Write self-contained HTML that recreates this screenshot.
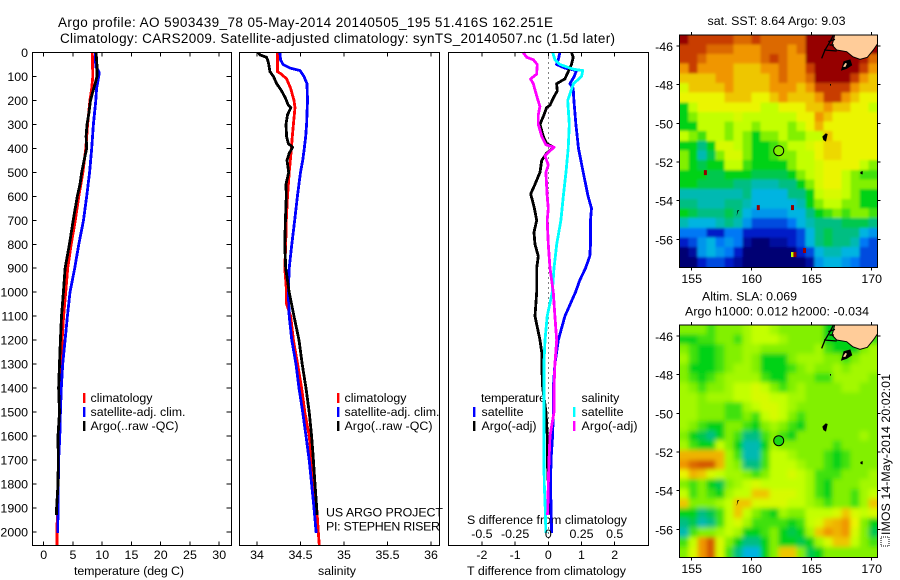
<!DOCTYPE html>
<html lang="en">
<head>
<meta charset="utf-8">
<title>Argo profile 5903439_78</title>
<style>
html,body{margin:0;padding:0;background:#fff;width:900px;height:580px;overflow:hidden}
svg{display:block}
text{font-family:"Liberation Sans",sans-serif;font-size:12.4px;fill:#000}
</style>
</head>
<body>
<svg id="chart" xmlns="http://www.w3.org/2000/svg" width="900" height="580" viewBox="0 0 900 580">
  <defs>
    <clipPath id="clip-map"><rect x="679.5" y="35" width="198" height="232.5"/></clipPath>
    <clipPath id="clip-map2"><rect x="679.5" y="325" width="198" height="232.5"/></clipPath>
    <filter id="soft-sst" x="-5%" y="-5%" width="110%" height="110%"><feGaussianBlur stdDeviation="1.2"/></filter>
    <filter id="soft-sla" x="-5%" y="-5%" width="110%" height="110%"><feGaussianBlur stdDeviation="2.5"/></filter>
  </defs>
  <text x="58" y="27" textLength="495" lengthAdjust="spacing" style="font-size:13.5px">Argo profile: AO 5903439_78 05-May-2014 20140505_195 51.416S 162.251E</text>
  <text x="60" y="43" textLength="555" lengthAdjust="spacing" style="font-size:13.5px">Climatology: CARS2009. Satellite-adjusted climatology: synTS_20140507.nc (1.5d later)</text>

  <text x="74" y="575" textLength="110" lengthAdjust="spacing">temperature (deg C)</text>
  <text x="318" y="575" textLength="38" lengthAdjust="spacing">salinity</text>
  <text x="467" y="575" textLength="159" lengthAdjust="spacing">T difference from climatology</text>
  <text x="467" y="524" textLength="160" lengthAdjust="spacing">S difference from climatology</text>

  <text x="326" y="516.5" textLength="117" lengthAdjust="spacing">US ARGO PROJECT</text>
  <text x="326" y="530.5" textLength="114" lengthAdjust="spacing">PI: STEPHEN RISER</text>

  <g>
    <text x="90.5" y="402">climatology</text>
    <text x="90.5" y="416" textLength="95" lengthAdjust="spacing">satellite-adj. clim.</text>
    <text x="90.5" y="430" textLength="88" lengthAdjust="spacing">Argo(..raw -QC)</text>
  </g>
  <g>
    <text x="344.5" y="402">climatology</text>
    <text x="344.5" y="416" textLength="95" lengthAdjust="spacing">satellite-adj. clim.</text>
    <text x="344.5" y="430" textLength="88" lengthAdjust="spacing">Argo(..raw -QC)</text>
  </g>
  <g>
    <text x="481" y="402" textLength="65" lengthAdjust="spacing">temperature</text>
    <text x="481.5" y="416">satellite</text>
    <text x="481.5" y="430" textLength="55" lengthAdjust="spacing">Argo(-adj)</text>
    <text x="581.5" y="402">salinity</text>
    <text x="581.5" y="416">satellite</text>
    <text x="581.5" y="430" textLength="56" lengthAdjust="spacing">Argo(-adj)</text>
  </g>

  <text x="707.5" y="25" textLength="138" lengthAdjust="spacing">sat. SST: 8.64  Argo: 9.03</text>
  <text x="702" y="300.5" textLength="95" lengthAdjust="spacing">Altim. SLA: 0.069</text>
  <text x="685" y="315.5" textLength="184" lengthAdjust="spacing">Argo h1000: 0.012 h2000: -0.034</text>

  <text transform="translate(890,535) rotate(-90)" textLength="161" lengthAdjust="spacing">IMOS 14-May-2014 20:02:01</text>
  <rect x="881" y="537" width="8" height="9" fill="none" stroke="#000" stroke-width="1" stroke-dasharray="1 1"/>
</svg>

<script>
// ---------- Depth axis ----------
const depthTicks = [0,100,200,300,400,500,600,700,800,900,1000,1100,1200,1300,1400,1500,1600,1700,1800,1900,2000];

// ---------- Temperature panel ----------
const tempTicks = [0,5,10,15,20,25,30];
const climTempDepth = [0,100,150,200,300,400,500,600,700,800,900,1000,1100,1200,1300,1400,1500,1600,1700,1800,1900,2000,2057];
const climTemp = [8.3,8.4,8.2,7.9,7.5,7.2,6.7,6.0,5.4,4.7,4.1,3.76,3.4,3.15,3.0,2.8,2.7,2.55,2.5,2.45,2.35,2.28,2.28];
const satTempDepth = [0,60,70,85,100,150,200,300,400,500,600,700,800,900,1000,1100,1200,1300,1400,1500,1600,1700,1800,1900,2005];
const satTemp = [8.8,8.9,9.2,9.5,9.4,9.05,8.9,8.5,8.2,7.85,7.35,6.8,6.0,5.3,4.5,4.05,3.65,3.25,3.0,2.85,2.75,2.55,2.5,2.45,2.4];
const argoTempDepth = [0,50,100,130,150,200,250,300,350,400,450,500,550,600,700,800,900,1000,1100,1200,1300,1400,1500,1600,1700,1800,1900,1930];
const argoTemp = [8.95,9.1,9.1,8.8,8.55,8.0,7.75,7.4,7.25,7.35,6.9,6.5,6.2,5.75,5.05,4.4,3.65,3.36,3.05,2.85,2.7,2.55,2.7,2.45,2.5,2.45,2.2,2.2];

// ---------- Salinity panel ----------
const salTicks = [34,34.5,35,35.5,36];
const climSalDepth = [0,80,90,110,150,200,230,300,350,400,450,500,600,700,800,900,1000,1050,1100,1200,1300,1400,1500,1600,1700,1800,1900,2000,2057];
const climSal = [34.234,34.234,34.28,34.34,34.387,34.425,34.437,34.418,34.406,34.395,34.383,34.37,34.35,34.337,34.33,34.32,34.34,34.34,34.387,34.418,34.467,34.513,34.55,34.6,34.628,34.655,34.686,34.705,34.716];
const satSalDepth = [0,30,50,65,75,100,130,200,300,350,400,450,500,600,700,800,900,1000,1100,1200,1300,1400,1500,1600,1700,1800,1900,2005];
const satSal = [34.264,34.27,34.3,34.38,34.494,34.54,34.575,34.58,34.57,34.56,34.544,34.525,34.5,34.464,34.433,34.4,34.37,34.36,34.37,34.4,34.448,34.483,34.525,34.563,34.6,34.628,34.655,34.68];
const argoSalDepth = [0,10,20,40,80,100,130,160,190,220,230,260,300,350,380,395,420,450,500,550,600,700,800,900,1000,1100,1200,1300,1400,1500,1600,1700,1800,1900,1930];
const argoSal = [34.015,34.035,34.11,34.13,34.15,34.19,34.226,34.283,34.326,34.36,34.39,34.35,34.333,34.34,34.36,34.41,34.37,34.345,34.364,34.333,34.337,34.326,34.32,34.33,34.37,34.425,34.483,34.52,34.563,34.6,34.628,34.648,34.667,34.686,34.69];

// ---------- Difference panel ----------
const diffTTicks = [-2,-1,0,1,2];
const diffSLabels = [-0.5,-0.25,0,0.25,0.5];
const satTDiffDepth = [0,30,50,65,75,100,130,150,200,300,400,500,600,650,700,800,850,900,950,1000,1100,1200,1300,1400,1500,1600,1700,1800,1900,2005];
const satTDiff = [0.35,0.3,0.25,0.5,0.85,0.78,0.65,0.75,0.77,0.83,0.91,1.05,1.2,1.3,1.27,1.27,1.25,1.12,0.95,0.82,0.5,0.3,0.2,0.15,0.15,0.13,0.08,0.07,0.08,0.1];
const argoTDiffDepth = [0,20,50,80,110,130,160,190,220,230,260,300,350,380,395,420,450,500,550,590,650,700,750,800,850,900,1000,1100,1200,1250,1300,1400,1500,1600,1700,1800,1930];
const argoTDiff = [0.7,0.75,0.7,0.6,0.5,0.25,0.27,0.15,0.05,-0.05,-0.13,-0.25,-0.15,-0.05,0.17,-0.05,-0.2,-0.25,-0.4,-0.53,-0.42,-0.35,-0.43,-0.4,-0.3,-0.35,-0.35,-0.4,-0.25,-0.2,-0.2,-0.17,-0.07,-0.03,-0.03,0,0];
const satSDiffDepth = [0,30,50,70,75,100,130,200,300,400,500,600,700,800,900,1000,1100,1200,1300,1400,1500,1600,1700,1800,1900,2005];
const satSDiff = [0.033,0.05,0.088,0.19,0.26,0.25,0.19,0.146,0.158,0.15,0.133,0.113,0.095,0.063,0.043,0.03,-0.008,-0.025,-0.033,-0.033,-0.033,-0.033,-0.033,-0.03,-0.023,-0.018];
const argoSDiffDepth = [0,20,30,50,90,110,130,180,225,260,300,350,385,395,430,470,500,600,650,700,800,900,1000,1100,1200,1300,1400,1500,1600,1700,1800,1930];
const argoSDiff = [-0.19,-0.163,-0.113,-0.083,-0.088,-0.133,-0.113,-0.088,-0.063,-0.075,-0.075,-0.05,-0.018,0.043,-0.025,0,-0.018,-0.008,0,-0.008,0,0.013,0.038,0.05,0.063,0.05,0.043,0.043,0.013,0.005,0,-0.005];

// ---------- Map axes ----------
const lonTicks = [155,160,165,170];
const latTicks = [-46,-48,-50,-52,-54,-56];

// ---------- SST map: colour level per cell, north to south ----------
const sstLevels = [
[11,10,10,10,10,10,9.5,9.5,10,9.5,9.5,9.5,9.5,9.5,11,11,11,11,11,11,11,11],
[10,10,10,9.5,9.5,9.5,9,9,9,9.5,9.5,9.5,9,9.5,11,11,11,11,11,11,11,11],
[10,10,9.5,9,9,9,9,9,9,9.5,10,9.5,9,9,11,11,11,11,11,11,10.5,9.5],
[9,10,9,9,9,9,8.5,8.5,8.5,9,9,9.5,9,9,10,11,11,11,11,11,10,9],
[8.5,8.5,8.5,8.5,9,9,8.5,8.5,8.5,8.5,9,9.5,9,9,9.5,11,11,11,11,10,9,8.5],
[7.5,8.5,8.5,8.5,8.5,9,8.5,8.5,8.5,8.5,9,9,9,8.5,9,10,10,10,10,9,8.5,8.5],
[8,8,8,8,8,8.5,8.5,8.5,8,8,8.5,9,8.5,8.5,8.5,9,10,10,9,8.5,8,8],
[5,7,8,8,8,8,8,8,8,7,7,8,8,8,8.5,8.5,9,8.5,8.5,8,8,7],
[5,6,7,7,7,7,7.5,7,7,7,7,7,7,8,8,9,8.5,8,8,8,8,8],
[5,5,7,7,7,6,7,7,6,7,7,7,6,7,8,8.7,8,8,8,8,8,8],
[7,6,5.5,7,7,6,7,6,5,6,6,7,6,6,7,7,8.5,8,8,8,8,8],
[5,5,4,5,7.5,7.5,7,6,5,5,5.5,6,7,7,7.5,8,8.3,8.3,8,8,8,8],
[6,5,3.5,4.5,6,7.5,7.5,6,5,5,5.5,6,6,7,7,8,8.3,8.3,8,8,8,8],
[6,5,4.5,5,5,7,7,5.5,5,5,5,5,6,7,7,7.5,8,8,8,8,7,6],
[5,5,5,4.5,4.5,5,5,5,4.5,4.5,4.5,4.5,5,6,7,7.5,8,8,7,6,5.5,5.5],
[5,5,4.5,4.5,4.5,4.5,4,4,3.5,3.5,3.5,4,4,5,6,7.5,8,8,7,6,6,6],
[3.5,3.5,3.5,3.5,3.5,3.5,3.5,4,3,3,3,3,4,4,5,7,7.5,7.5,7,6,5,5],
[4,4,3.5,3.5,3.5,4,4,3.5,3,3,3,3,3,3.5,5,6,7,7,6,6,5,5],
[5,4.5,4,4,4,4.5,4,3,2.5,2.5,2.5,2.5,3,3,4,5,5.5,6,5.5,6,6,5.5],
[3.5,3,3,3,3.5,4,3.5,2.5,1.5,1.5,1.5,1.5,2,3,3.5,4,4,4,4.5,4.5,4.5,4],
[2,2,2,1,1,2,2,1,1,1,1,1,1,1.5,3,4,4.5,4,4,4,3,2.5],
[1,1.5,2.5,3,2,2.5,2,0.5,0,0,0.5,0.5,1,1.5,3,4,4.5,4,4,3.5,2,1.5],
[0,0.5,2.5,3,2.5,2,1,0,0,0,0,0,0,1,1.5,3,3.5,3.5,3,3,1.5,1.5],
[0,0,1,1.5,1.5,1,0.5,0,0,0,0,0,0,0,0.5,2.5,3,3,2.5,2,1.5,1.5]
];
const sstSpotLon = [156.14,160.55,163.4,164.4,163.4,163.6];
const sstSpotLat = [-52.55,-54.36,-54.36,-56.58,-56.79,-56.79];
const sstSpotLevel = [11,11,11,11,7,11];

// ---------- SLA map: colour level per cell, north to south ----------
const slaLevels = [
[6,6,6,5.5,6,6,6,6.5,7,7,6.5,6,6,6,6,6,5,5,5,5,5,5],
[5,5,5.5,5.5,6,6,5.5,6.5,7,7,7,6.5,6,6,6,6,5,5,5,5,5,5.5],
[6,5.5,5,5,5.5,6,6,6.5,6.5,6,6,6,6,6,6,6.5,5.5,5,5,5,6,6.5],
[6.5,5.5,5,5,5.5,6,6,6.5,6,5,5,5,6,6.5,6.5,6.5,6,6,5.5,6,6.5,6.5],
[6,5,5,5,5.5,6,6.5,6.5,6,5,5,5,5.5,6,6.5,6,6,6.5,6,6.5,6.5,6.5],
[6,5.5,5,5.5,6,6.5,6.5,6.5,6.5,5.5,5,5,6,6,6,5.5,5.5,6.5,6.5,6.5,6.5,6],
[6.5,6,5.5,6,6,6.5,7,7,7.5,7,6,5.5,6,6.5,6,6,6,6,6.5,6.5,6,6],
[6.5,6.5,6,6.5,6.5,6.5,7,7,7.5,7.5,7,7,6.5,6.5,6,6,6,6,6,6,6,6],
[6.5,6.5,6,6,6,5.5,5.5,6.5,7,7.5,7.5,7,6.5,6,6,6,6,6,6,6,6,6],
[6.5,6.5,6,6,6,5.5,5.5,6,5.5,7,7.5,7,6,5.5,6,6,6,6,6,6,6,6],
[6.5,6,5.5,5,5,6,6,5.5,5,6,6.5,6,5.5,5,6,6,6,6,6,6,6,6],
[6,5,4.5,4,5,6,5.5,4,4,5.5,6,5.5,5,6,6,6,6,6,6,6,6.5,6],
[6.5,5.5,5,5,7,6,5,3.5,3.5,5,6.5,6,6,6,6,6,6,5.5,6,6,6,6],
[8.7,8.7,8.7,8.7,8.7,6.5,5.5,3.5,3.5,5.5,7,7,6.5,6,6,6,5.5,5,5.5,6,6,6],
[9,9.5,9.7,9.7,8.7,6.5,6,4,4,5.5,7,7,7,6.5,6,6,5.5,5,5.5,6,6,6],
[8,8.7,8.5,7.5,7,6.5,6.5,6,5.5,6,7,7,7.5,7,6.5,5.5,5.5,5.5,6,6,6,6.5],
[6,5.5,6,5,4.5,6,6.5,7,7.5,7,7,7,7,7,6.5,5.5,5,6,6,6,6.5,6.5],
[7,5.5,6,5.5,5,6.5,7,7,8.5,8.5,7.5,7.5,7.5,7,6.5,5.5,5,6,6,5.5,6.5,7],
[8.5,6,6,6,6.5,7,8.5,8.5,7.5,7.5,7.5,7.5,7,7,6.5,6,5.5,6,6,5.5,6.5,8.5],
[5,5,4,4.5,5.5,7,8.5,7,6,5.5,5,6.5,6,6,7,7,7,7.5,8.5,7.5,7,7.5],
[4,4.5,3.5,4,5.5,7,7.5,6.5,5.5,5.5,5.5,5.5,5,5.5,7,7.5,8.5,8.7,9,8,6,5],
[3.5,5.5,6,6,6.5,7,6.5,5,5,5.5,6,5,4.5,5,6.5,8.5,9,8.7,9,7.5,6,4.5],
[5.5,7,9,9.7,7.5,6,5,4,4,5,6,5,5,4.5,5,6.5,7.5,8.5,8.5,7,6,5.5],
[6,7.5,9,9.7,7.5,5.5,4,3,3,5,6,8.5,8.5,6,4.5,5,6,6,6,6,6,6]
];

// ---------- Float position and its colour level on each map ----------
const floatLon = 162.251;
const floatLat = -51.416;
const floatSstLevel = 6;
const floatSlaLevel = 5.2;

// ---------- Colour ramp ----------
const ramp = [[0,0,115],[0,30,200],[0,120,245],[0,180,225],[0,190,130],[0,210,25],[130,240,0],[195,255,0],[235,245,0],[240,150,0],[200,60,0],[150,0,0]];
function levelColor(v){
  const c = Math.max(0, Math.min(11, v));
  const i = Math.min(10, Math.floor(c));
  const f = c - i;
  const m = [0,1,2].map(k => Math.round(ramp[i][k] + (ramp[i+1][k] - ramp[i][k]) * f));
  return 'rgb(' + m.join(',') + ')';
}

// ---------- Scales ----------
const yDepth = d => 52.5 + d * 0.2397;
const xTemp = t => 43.7 + t * 5.85;
const xSal = s => 257 + (s - 34) * 87;
const xDiffT = t => 548.3 + t * 33.2;
const xDiffS = s => 548.3 + s * 132.8;
const xLon = lon => 691.7 + (lon - 155) * 12;
const yLat = (lat, off) => off + 46 + (-46 - lat) * 19.33;

const svg = document.getElementById('chart');
const NS = 'http://www.w3.org/2000/svg';
function mk(tag, parent, props){
  const n = document.createElementNS(NS, tag);
  for (const k in props) n.setAttribute(k, props[k]);
  parent.appendChild(n);
  return n;
}
function group(name){
  const g = mk('g', svg, {});
  
  
  return g;
}
function line(parent, name, x1, y1, x2, y2){
  const l = mk('line', parent, {x1, y1, x2, y2, stroke:'#000', 'stroke-width':1, 'shape-rendering':'crispEdges'});
  
  
  return l;
}
function label(parent, name, x, y, str, anchor){
  const t = mk('text', parent, {x, y, 'text-anchor':anchor || 'middle'});
  t.textContent = str;
  
  
  return t;
}
function series(parent, name, depths, values, xf, color){
  const pts = depths.map((d, i) => xf(values[i]).toFixed(1) + ',' + yDepth(d).toFixed(1)).join(' ');
  const p = mk('polyline', parent, {points:pts, fill:'none', stroke:color, 'stroke-width':2.8, 'stroke-linejoin':'round', 'shape-rendering':'crispEdges'});
  
  
  return p;
}
function legendBar(parent, name, x, y, color){
  const r = mk('rect', parent, {x, y, width:2.4, height:10, fill:color});
  
  
  return r;
}
function frame(parent, name, x, y, w, h){
  const r = mk('rect', parent, {x, y, width:w, height:h, fill:'none', stroke:'#000', 'stroke-width':1, 'shape-rendering':'crispEdges'});
  
  
  return r;
}

const TOP = 52.5, BOT = 545.5;

// ---------- Temperature panel ----------
const p1 = group('temperature-panel');
series(p1, 'temperature-climatology-line', climTempDepth, climTemp, xTemp, '#ff0000');
series(p1, 'temperature-satellite-line', satTempDepth, satTemp, xTemp, '#0000ff');
series(p1, 'temperature-argo-line', argoTempDepth, argoTemp, xTemp, '#000000');
frame(p1, 'temperature-plot-frame', 32.5, TOP, 199, BOT - TOP);
tempTicks.forEach(t => {
  line(p1, 'temperature-tick-top', xTemp(t), TOP, xTemp(t), TOP + 4);
  line(p1, 'temperature-tick-bottom', xTemp(t), BOT, xTemp(t), BOT - 4);
  label(p1, 'temperature-tick-label', xTemp(t), 559, String(t));
});
depthTicks.forEach(d => {
  line(p1, 'depth-tick-left', 32.5, yDepth(d), 36.5, yDepth(d));
  line(p1, 'depth-tick-right', 231.5, yDepth(d), 226.5, yDepth(d));
  label(p1, 'depth-tick-label', 28, yDepth(d) + 4.5, String(d), 'end');
});
legendBar(p1, 'legend-swatch-climatology', 83, 393, '#ff0000');
legendBar(p1, 'legend-swatch-satellite', 83, 407, '#0000ff');
legendBar(p1, 'legend-swatch-argo', 83, 421, '#000000');

// ---------- Salinity panel ----------
const p2 = group('salinity-panel');
series(p2, 'salinity-climatology-line', climSalDepth, climSal, xSal, '#ff0000');
series(p2, 'salinity-satellite-line', satSalDepth, satSal, xSal, '#0000ff');
series(p2, 'salinity-argo-line', argoSalDepth, argoSal, xSal, '#000000');
frame(p2, 'salinity-plot-frame', 239.5, TOP, 200, BOT - TOP);
salTicks.forEach(s => {
  line(p2, 'salinity-tick-top', xSal(s), TOP, xSal(s), TOP + 4);
  line(p2, 'salinity-tick-bottom', xSal(s), BOT, xSal(s), BOT - 4);
  label(p2, 'salinity-tick-label', xSal(s), 559, String(s));
});
legendBar(p2, 'legend-swatch-climatology', 337, 393, '#ff0000');
legendBar(p2, 'legend-swatch-satellite', 337, 407, '#0000ff');
legendBar(p2, 'legend-swatch-argo', 337, 421, '#000000');

// ---------- Difference panel ----------
const p3 = group('difference-panel');
const zero = line(p3, 'zero-reference-line', xDiffT(0), TOP, xDiffT(0), BOT);
zero.setAttribute('stroke-dasharray', '1 4');
series(p3, 'temperature-diff-satellite-line', satTDiffDepth, satTDiff, xDiffT, '#0000ff');
series(p3, 'temperature-diff-argo-line', argoTDiffDepth, argoTDiff, xDiffT, '#000000');
series(p3, 'salinity-diff-satellite-line', satSDiffDepth, satSDiff, xDiffS, '#00ffff');
series(p3, 'salinity-diff-argo-line', argoSDiffDepth, argoSDiff, xDiffS, '#ff00ff');
frame(p3, 'difference-plot-frame', 448.5, TOP, 200, BOT - TOP);
diffTTicks.forEach(t => {
  line(p3, 'difference-tick-top', xDiffT(t), TOP, xDiffT(t), TOP + 4);
  line(p3, 'difference-tick-bottom', xDiffT(t), BOT, xDiffT(t), BOT - 4);
  label(p3, 'difference-t-tick-label', xDiffT(t), 559, String(t));
});
diffSLabels.forEach(s => {
  label(p3, 'difference-s-tick-label', xDiffS(s), 538, String(s));
});
legendBar(p3, 'legend-swatch-t-satellite', 473, 407, '#0000ff');
legendBar(p3, 'legend-swatch-t-argo', 473, 421, '#000000');
legendBar(p3, 'legend-swatch-s-satellite', 573, 407, '#00ffff');
legendBar(p3, 'legend-swatch-s-argo', 573, 421, '#ff00ff');

// ---------- Maps ----------
function drawMap(name, levels, off, clipId, filterId, dotLevel, spots){
  const g = group(name);
  const clip = mk('g', g, {'clip-path':'url(#' + clipId + ')'});
  const cells = mk('g', clip, {filter:'url(#' + filterId + ')', 'shape-rendering':'crispEdges'});
  const lon0 = 153.97, latTop = -45.41, dLon = 0.75, dLat = 0.5;
  levels.forEach((row, r) => row.forEach((v, c) => {
    let x = xLon(lon0 + c * dLon), w = dLon * 12 + 0.5;
    let y = yLat(latTop - r * dLat, off), h = dLat * 19.33 + 0.5;
    if (c === 0) { x -= 14; w += 14; }
    if (c === row.length - 1) w += 14;
    if (r === 0) { y -= 14; h += 14; }
    if (r === levels.length - 1) h += 14;
    const cell = mk('rect', cells, {x, y, width:w, height:h, fill:levelColor(v)});
    
    
  }));
  if (spots) {
    sstSpotLon.forEach((lon, i) => {
      const s = mk('rect', clip, {x:xLon(lon) - 1.5, y:yLat(sstSpotLat[i], off) - 2.5, width:3, height:5, fill:levelColor(sstSpotLevel[i])});
      
      
    });
  }
  // coastline and islands, drawn in the 3x reference coordinate frame
  const geo = mk('g', clip, {transform:'translate(660,' + off + ') scale(0.33333)'});
  const land = mk('path', geo, {d:'M525,100 L521,118 L516,135 L530,150 L560,155 L578,170 L600,178 L622,172 L640,150 L655,128 L655,100 Z', fill:'#ffcc99', stroke:'#000', 'stroke-width':3});
  
  
  const coast = mk('path', geo, {d:'M520,106 L510,125 L495,150 L485,175 M492,150 L530,153 M505,125 L525,118 M508,135 L522,135', fill:'none', stroke:'#000', 'stroke-width':4});
  
  
  const stewart = mk('path', geo, {d:'M545,210 L552,185 L570,180 L575,195 L560,205 Z', fill:'#000', stroke:'#000', 'stroke-width':3});
  
  
  const specks = mk('path', geo, {d:'M549,200 L556,189 L561,191 L556,201 Z', fill:'#ffcc99'});
  
  
  const isles = mk('path', geo, {d:'M487,410 L497,400 L503,402 L498,425 L490,420 Z M601,516 L608,513 L608,523 L602,522 Z M230,648 L232,631 L238,630 L234,635 Z M510,252 L513,252 L513,257 L510,257 Z', fill:'#000'});
  
  
  const dot = mk('circle', g, {cx:xLon(floatLon), cy:yLat(floatLat, off), r:5, fill:levelColor(dotLevel), stroke:'#000', 'stroke-width':1});
  
  
  frame(g, 'map-frame', 679.5, off + 35, 198, 232.5);
  lonTicks.forEach(lon => {
    line(g, 'longitude-tick-top', xLon(lon), off + 35, xLon(lon), off + 32);
    line(g, 'longitude-tick-bottom', xLon(lon), off + 267.5, xLon(lon), off + 270.5);
    label(g, 'longitude-tick-label', xLon(lon), off + 283, String(lon));
  });
  latTicks.forEach(lat => {
    line(g, 'latitude-tick-left', 679.5, yLat(lat, off), 676.5, yLat(lat, off));
    line(g, 'latitude-tick-right', 877.5, yLat(lat, off), 880.5, yLat(lat, off));
    label(g, 'latitude-tick-label', 673, yLat(lat, off) + 5, String(lat), 'end');
  });
}
drawMap('sst-map', sstLevels, 0, 'clip-map', 'soft-sst', floatSstLevel, true);
drawMap('sla-map', slaLevels, 290, 'clip-map2', 'soft-sla', floatSlaLevel, false);
</script>
</body>
</html>
